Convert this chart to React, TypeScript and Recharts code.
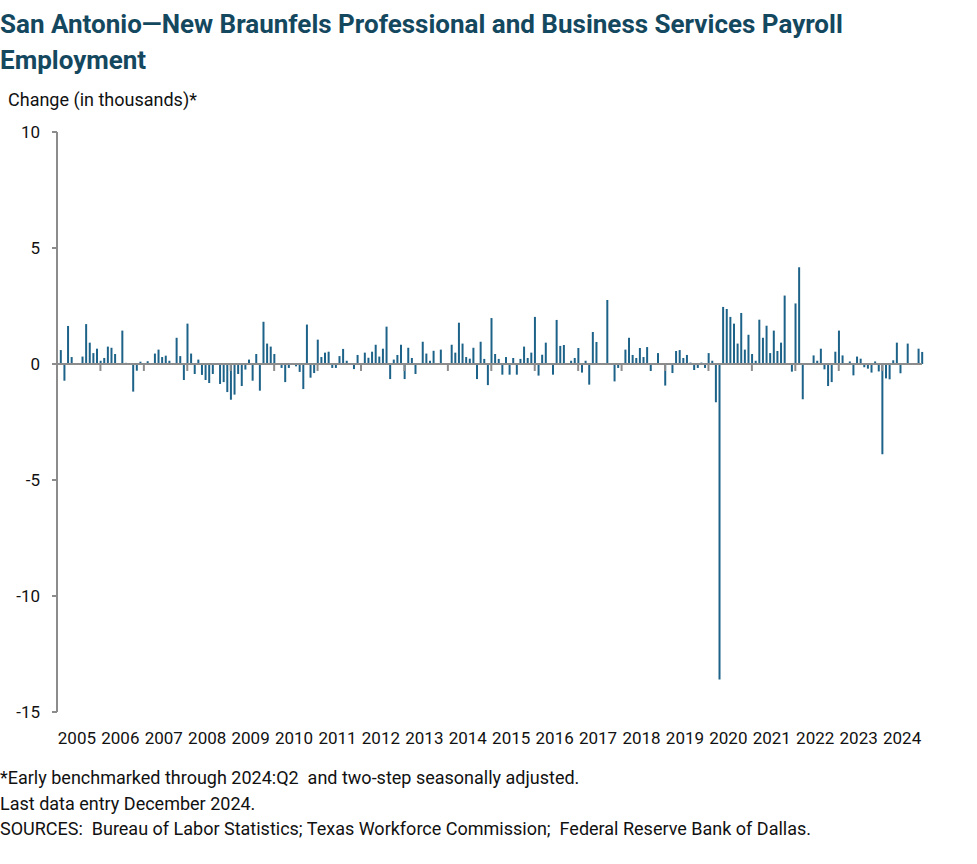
import React from 'react';
import { BarChart, Bar, XAxis, YAxis, ReferenceLine } from 'recharts';

// Monthly change (thousands), Jan..Dec; Jan 2005 has no change value
const y2005 = [null, 0.6, -0.72, 1.64, 0.3, 0, 0, 0.32, 1.72, 0.92, 0.47, 0.66];
const y2006 = [0.14, 0.26, 0.75, 0.7, 0.43, 0, 1.44, 0.05, 0, -1.19, -0.29, 0.1];
const y2007 = [0, 0.12, 0, 0.45, 0.62, 0.3, 0.36, 0.14, 0, 1.13, 0.34, -0.69];
const y2008 = [1.74, 0.45, -0.43, 0.19, -0.47, -0.69, -0.82, -0.43, 0, -0.86, -0.78, -1.21];
const y2009 = [-1.54, -1.32, -0.43, -0.95, -0.24, 0.19, -0.72, 0.43, -1.15, 1.82, 0.88, 0.75];
const y2010 = [0.43, 0, -0.17, -0.78, -0.17, 0, -0.1, -0.34, -1.08, 1.7, -0.59, -0.39];
const y2011 = [1.05, 0.3, 0.49, 0.53, -0.17, -0.17, 0.34, 0.65, 0.14, 0, -0.22, 0.39];
const y2012 = [0, 0.49, 0.27, 0.53, 0.83, 0.32, 0.66, 1.61, -0.65, 0.19, 0.39, 0.83];
const y2013 = [-0.65, 0.7, 0.26, -0.43, 0.03, 0.96, 0.45, 0.14, 0.57, 0.02, 0.62, 0];
const y2014 = [0, 0.83, 0.49, 1.78, 0.88, 0.3, 0.23, 0.7, -0.65, 0.96, 0.22, -0.91];
const y2015 = [1.98, 0.43, 0.22, -0.46, 0.3, -0.46, 0.26, -0.46, 0.22, 0.75, 0.26, 0.49];
const y2016 = [2.03, -0.5, 0.4, 0.92, 0, -0.46, 1.9, 0.78, 0.82, 0, 0.14, 0.26];
const y2017 = [0.69, -0.37, 0.14, -0.89, 1.38, 0.95, 0.03, 0, 2.76, 0, -0.75, -0.17];
const y2018 = [0, 0.62, 1.13, 0.39, 0.26, 0.69, 0.3, 0.73, -0.3, 0, 0.47, 0];
const y2019 = [-0.93, 0, -0.39, 0.56, 0.6, 0.26, 0.39, 0.06, -0.26, -0.17, 0.06, -0.17];
const y2020 = [0.47, 0.14, -1.65, -13.6, 2.46, 2.37, 2.03, 1.74, 0.88, 2.2, 0.62, 1.26];
const y2021 = [0.43, 0.14, 1.91, 1.13, 1.65, 0.47, 1.44, 0.56, 0.92, 2.95, 0, -0.33];
const y2022 = [2.61, 4.17, -1.52, 0, 0, 0.37, 0.14, 0.66, -0.23, -0.95, -0.78, 0.53];
const y2023 = [1.44, 0.37, 0, 0.11, -0.49, 0.32, 0.23, -0.14, -0.2, -0.37, 0.11, -0.32];
const y2024 = [-3.89, -0.62, -0.66, 0.16, 0.92, -0.4, 0, 0.88, 0, 0, 0.66, 0.52];

const years = ['2005', '2006', '2007', '2008', '2009', '2010', '2011', '2012', '2013', '2014',
  '2015', '2016', '2017', '2018', '2019', '2020', '2021', '2022', '2023', '2024'];
const yearValues = [y2005, y2006, y2007, y2008, y2009, y2010, y2011, y2012, y2013, y2014,
  y2015, y2016, y2017, y2018, y2019, y2020, y2021, y2022, y2023, y2024];

const yTicks = [-15, -10, -5, 0, 5, 10];

const title = 'San Antonio\u2014New Braunfels Professional and Business Services Payroll Employment';
const axisTitle = 'Change (in thousands)*';
const notes = [
  '*Early benchmarked through 2024:Q2  and two-step seasonally adjusted.',
  'Last data entry December 2024.',
  'SOURCES:  Bureau of Labor Statistics; Texas Workforce Commission;  Federal Reserve Bank of Dallas.',
];

const rows = yearValues.flatMap((vals, k) => vals.map((v, m) => ({ idx: k * 12 + m, v })));
const labelTicks = years.map((_, k) => k * 12 + 5.5);
const yearStarts = years.slice(1).map((_, k) => (k + 1) * 12);

const FONT = 'Roboto, "Liberation Sans", sans-serif';
const GRAY = '#8c8c8c';
const BLUE = '#1d6288';

export default function App() {
  return (
    <div style={{ position: 'absolute', left: 0, top: 0, width: 977, height: 864, background: '#fff', fontFamily: FONT, color: '#111' }}>
      <div style={{ position: 'absolute', left: 0, top: 6, width: 880, fontSize: 26, fontWeight: 700, lineHeight: '36px', color: '#14485f', letterSpacing: 0 }}>
        {title}
      </div>
      <div style={{ position: 'absolute', left: 8, top: 89, fontSize: 18 }}>{axisTitle}</div>
      <div style={{ position: 'absolute', left: 0, top: 0 }}>
        <BarChart width={977} height={760} data={rows} margin={{ top: 132, right: 55, bottom: 18, left: 8 }}>
          <XAxis
            type="number"
            dataKey="idx"
            domain={[0, 239]}
            ticks={labelTicks}
            interval={0}
            tickFormatter={(v: number) => years[Math.floor(v / 12)]}
            axisLine={false}
            tickLine={false}
            tickMargin={14}
            height={30}
            tick={{ fontSize: 17, fill: '#111', fontFamily: FONT }}
          />
          <YAxis
            type="number"
            domain={[-15, 10]}
            ticks={yTicks}
            interval={0}
            width={49}
            axisLine={{ stroke: GRAY, strokeWidth: 2 }}
            tickLine={{ stroke: GRAY, strokeWidth: 2 }}
            tickSize={5}
            tickMargin={12}
            tick={{ fontSize: 17, fill: '#111', fontFamily: FONT }}
          />
          <ReferenceLine y={0} stroke={GRAY} strokeWidth={2} />
          {yearStarts.map((j) => (
            <ReferenceLine key={j} segment={[{ x: j, y: 0 }, { x: j, y: -0.3 }]} stroke={GRAY} strokeWidth={2} />
          ))}
          <Bar dataKey="v" fill={BLUE} barSize={2} isAnimationActive={false} />
        </BarChart>
      </div>
      {notes.map((t, n) => (
        <div key={n} style={{ position: 'absolute', left: 0, top: 767 + n * 25.5, fontSize: 18, whiteSpace: 'pre' }}>{t}</div>
      ))}
    </div>
  );
}
